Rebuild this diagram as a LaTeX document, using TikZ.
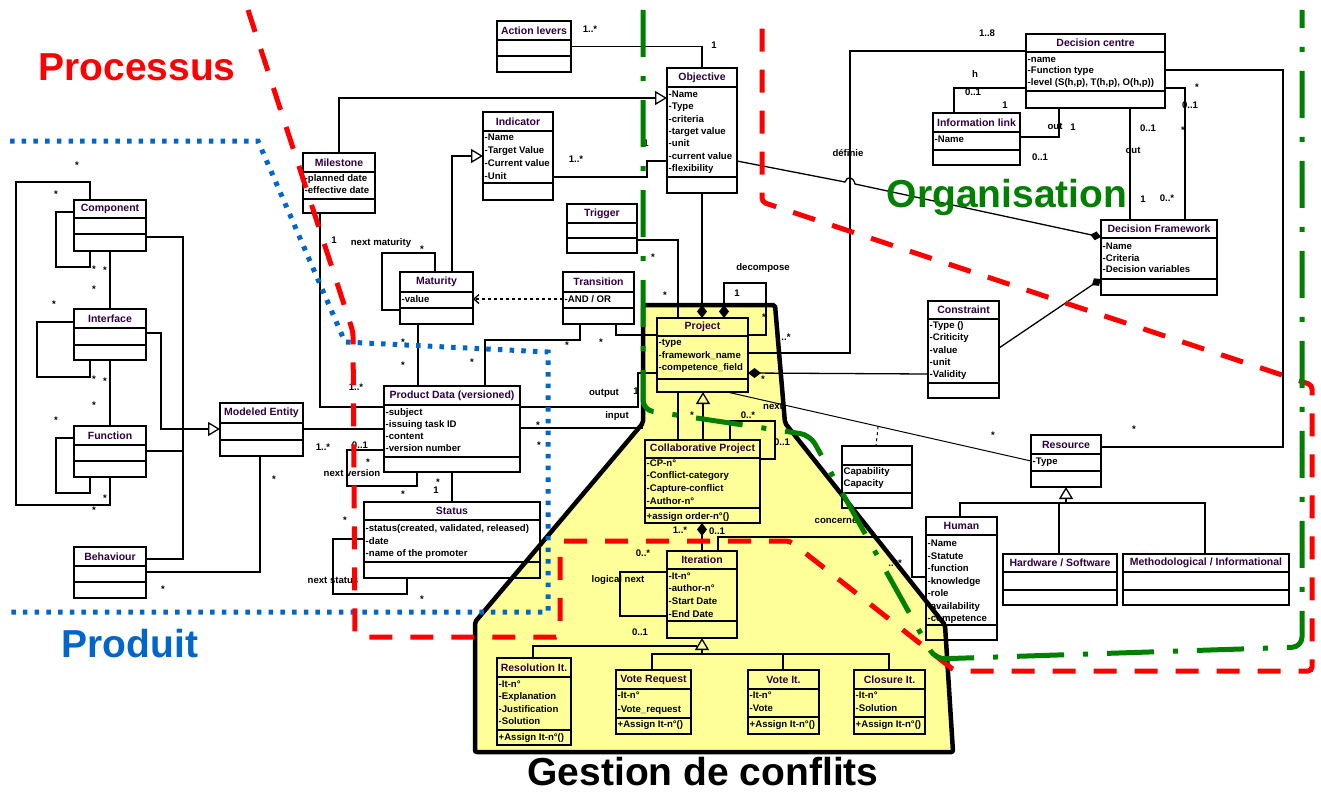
\documentclass[tikz,border=0pt]{standalone}
\usepackage{fontspec}
\setmainfont{Liberation Sans}
\usetikzlibrary{arrows.meta}
\definecolor{ured}{RGB}{255,0,0}
\definecolor{ugreen}{RGB}{0,128,0}
\definecolor{ublue}{RGB}{0,102,204}
\definecolor{uyellow}{RGB}{255,255,153}
\definecolor{utitle}{RGB}{48,0,64}
\newcommand\umlclass[8]{%
  \node[cls, minimum width=#4pt-#2pt, minimum height=#5pt-#3pt] (#1) at (#2,#3) {};
  \draw[line width=2.6pt] (#2,#3) rectangle (#4,#6);
  \draw[line width=1.4pt] (#2,#7) -- (#4,#7);
  \node[ttl] (#1-t) at ({(#2+#4)/2},{(#3+#6)/2}) {#8};
}
\newcommand\uattrs[5]{%
  \foreach \ua [count=\ui] in {#5} {
    \node[att] (#1-a\ui) at (#2+1.5, {#3+(\ui-1)*#4}) {\ua};
  }
}
\begin{document}
\begin{tikzpicture}[x=1pt,y=-1pt,
  cls/.style={draw, line width=1.4pt, inner sep=0pt, outer sep=0pt, anchor=north west},
  ttl/.style={font=\fontsize{10.5}{12}\selectfont\bfseries, text=utitle, inner sep=0pt},
  att/.style={font=\fontsize{9.6}{11}\selectfont\bfseries, inner sep=0pt, anchor=base west},
  lbl/.style={font=\fontsize{9.6}{11}\selectfont\bfseries, inner sep=0pt},
  star/.style={font=\fontsize{9.6}{11}\selectfont\bfseries, inner sep=0pt, yshift=-2pt},
  conn/.style={line width=1.3pt},
  gen/.style={conn, -{Triangle[open, length=12pt, width=14pt, line width=1.3pt]}},
  compo/.style={conn, -{Diamond[length=13pt, width=10pt]}},
  big/.style={font=\fontsize{39}{40}\selectfont\bfseries, inner sep=0pt}]
\useasboundingbox (0,0) rectangle (1321,792);

% yellow conflict-management region
\fill[uyellow, rounded corners=2pt] (643,305) -- (775,305) -- (785,423) -- (945,625) -- (953,752) -- (475,752) -- (475,622) -- (643,423) -- cycle;

% ---------------- classes ----------------
\umlclass{lev}{497}{21}{571}{72}{40}{56}{Action levers}
\umlclass{obj}{667}{68}{737}{193}{87}{177}{Objective}
\uattrs{obj}{667}{97.5}{12.3}{-Name,-Type,-criteria,-target value,-unit,-current value,-flexibility}
\umlclass{ind}{483}{112}{553}{200}{131}{183}{Indicator}
\uattrs{ind}{483}{140.5}{13}{-Name,-Target Value,-Current value,-Unit}
\umlclass{mil}{303}{153}{375}{213}{172}{199}{Milestone}
\uattrs{mil}{303}{181.5}{12}{-planned date,-effective date}
\umlclass{comp}{74}{200}{146}{251}{218}{234}{Component}
\umlclass{intf}{74}{309}{146}{360}{328}{345}{Interface}
\umlclass{func}{74}{426}{146}{477}{445}{461}{Function}
\umlclass{beh}{74}{547}{146}{598}{566}{582}{Behaviour}
\umlclass{me}{220}{403}{303}{456}{423}{440}{Modeled Entity}
\umlclass{pd}{384}{386}{520}{472}{405}{457}{Product Data (versioned)}
\uattrs{pd}{384}{415.5}{12}{-subject,-issuing task ID,-content,-version number}
\umlclass{st}{364}{502}{540}{578}{520}{562}{Status}
\uattrs{st}{364}{531.5}{12.5}{{-status(created, validated, released)},-date,-name of the promoter}
\umlclass{mat}{400}{272}{473}{324}{292}{308}{Maturity}
\uattrs{mat}{400}{302.5}{12}{-value}
\umlclass{tr}{563}{272}{634}{324}{292}{308}{Transition}
\uattrs{tr}{563}{302.5}{12}{-AND / OR}
\umlclass{trg}{567}{204}{637}{253}{223}{238}{Trigger}
\umlclass{proj}{657}{318}{748}{392}{336}{379}{Project}
\uattrs{proj}{657}{345.5}{12.5}{-type,-framework\_name,-competence\_field}
\umlclass{collab}{645}{440}{760}{523}{458}{508}{Collaborative Project}
\uattrs{collab}{645}{466}{12.7}{-CP-n°,-Conflict-category,-Capture-conflict,-Author-n°}
\node[att] (collab-o) at (646.5,519.5) {+assign order-n°()};
\umlclass{it}{667}{551}{737}{638}{569}{621}{Iteration}
\uattrs{it}{667}{579}{12.7}{-It-n°,-author-n°,-Start Date,-End Date}
\umlclass{res}{497}{658}{571}{745}{677}{730}{Resolution It.}
\uattrs{res}{497}{687.5}{12.3}{-It-n°,-Explanation,-Justification,-Solution}
\node[att] (res-o) at (498.5,740.5) {+Assign It-n°()};
\umlclass{vreq}{616}{670}{691}{734}{689}{718}{Vote Request}
\uattrs{vreq}{616}{698.5}{13.5}{-It-n°,-Vote\_request}
\node[att] (vreq-o) at (617.5,727.5) {+Assign It-n°()};
\umlclass{vote}{748}{670}{819}{734}{689}{717}{Vote It.}
\uattrs{vote}{748}{698.5}{13}{-It-n°,-Vote}
\node[att] (vote-o) at (749.5,727.5) {+Assign It-n°()};
\umlclass{clo}{854}{670}{925}{734}{689}{717}{Closure It.}
\uattrs{clo}{854}{698.5}{13}{-It-n°,-Solution}
\node[att] (clo-o) at (855.5,727.5) {+Assign It-n°()};
\umlclass{cap}{842}{446}{912}{508}{465}{493}{}
\uattrs{cap}{842}{474.5}{12}{Capability,Capacity}
\umlclass{con}{928}{301}{999}{398}{319}{383}{Constraint}
\uattrs{con}{928}{328.5}{12.25}{-Type (),-Criticity,-value,-unit,-Validity}
\umlclass{df}{1101}{220}{1217}{295}{238}{279}{Decision Framework}
\uattrs{df}{1101}{249.5}{11.5}{-Name,-Criteria,-Decision variables}
\umlclass{dc}{1026}{34}{1165}{108}{52}{91}{Decision centre}
\uattrs{dc}{1026}{62.5}{11.5}{-name,-Function type,{-level (S(h,p), T(h,p), O(h,p))}}
\umlclass{il}{933}{113}{1020}{165}{132}{150}{Information link}
\uattrs{il}{933}{142.5}{12}{-Name}
\umlclass{rsc}{1031}{435}{1101}{487}{454}{471}{Resource}
\uattrs{rsc}{1031}{464.5}{12}{-Type}
\umlclass{hum}{926}{517}{997}{640}{535}{625}{Human}
\uattrs{hum}{926}{546.5}{12.5}{-Name,-Statute,-function,-knowledge,-role,-availability,-competence}
\umlclass{hw}{1003}{554}{1117}{605}{572}{590}{Hardware / Software}
\umlclass{meth}{1123}{554}{1289}{605}{572}{590}{Methodological / Informational}

% ---------------- connectors ----------------
\draw[conn] (lev.east) -- (lev.east -| obj.north) -- (obj.north);
\draw[gen] (mil.north) -- (mil.north |- 0,98) -- (obj.west |- 0,98);
\draw[gen] (mat.north -| 452,0) -- (452,156) -- (ind.west |- 0,156);
\draw[conn] (mat.north -| 435,0) -- (435,253) -- (382,253) -- (382,310) -- (mat.west |- 0,310);
\draw[conn] (ind.east |- 0,177) -- (647,177) -- (647,161) -- (obj.west |- 0,161);
\draw[conn] (mil.south -| 320,0) -- (320,407) -- (pd.west |- 0,407);
\draw[conn] (comp.west |- 0,212) -- (56,212) -- (56,267) -- (90,267) -- (comp.south -| 90,0);
\draw[conn] (comp.north -| 90,0) -- (90,182) -- (16,182) -- (16,505) -- (110,505) -- (func.south -| 110,0);
\draw[conn] (comp.south) -- (intf.north);
\draw[conn] (intf.south) -- (func.north);
\draw[conn] (intf.west |- 0,322) -- (37,322) -- (37,377) -- (90,377) -- (intf.south -| 90,0);
\draw[conn] (func.west |- 0,438) -- (56,438) -- (56,493) -- (90,493) -- (func.south -| 90,0);
\draw[conn] (comp.east |- 0,237) -- (183,237) -- (183,559) -- (beh.east |- 0,559);
\draw[conn] (func.east |- 0,451) -- (183,451);
\draw[gen] (intf.east |- 0,333) -- (161,333) -- (161,429) -- (me.west |- 0,429);
\draw[conn] (beh.east |- 0,572) -- (260,572) -- (me.south -| 260,0);
\draw[conn] (me.east |- 0,429) -- (pd.west |- 0,429);
\draw[conn] (pd.west |- 0,450) -- (347,450) -- (347,486) -- (417,486) -- (pd.south -| 417,0);
\draw[conn] (pd.south -| 452,0) -- (st.north -| 452,0);
\draw[conn] (st.west |- 0,539) -- (333,539) -- (333,594) -- (407,594) -- (st.south -| 407,0);
\draw[conn] (mat.south -| 418,0) -- (pd.north -| 418,0);
\draw[conn] (tr.south -| 580,0) -- (580,340) -- (485,340) -- (pd.north -| 485,0);
\draw[conn, dashed, -{Straight Barb[length=5pt,width=9pt]}] (tr.west |- 0,299) -- (mat.east |- 0,299);
\draw[conn] (tr.south -| 616,0) -- (616,335) -- (proj.west |- 0,335);
\draw[conn] (trg.east |- 0,240) -- (678,240) -- (proj.north -| 678,0);
\draw[compo] (obj.south) -- (obj.south |- proj.north);
\draw[compo] (proj.east |- 0,335) -- (766,335) -- (766,283) -- (724,283) -- (proj.north -| 724,0);
\draw[conn] (proj.east |- 0,353) -- (850,353) -- (850,51) -- (dc.west |- 0,51);
\draw[conn, -{Diamond[length=11pt, width=9pt]}] (obj.east |- 0,161) -- (845,182) .. controls (847,176) and (853,176) .. (855,184) -- (df.west |- 0,237);
\draw[conn, -{Diamond[length=11pt, width=9pt]}] (con.east |- 0,348) -- (df.west |- 0,279);
\draw[compo] (con.west |- 0,374) -- (proj.east |- 0,373);
\draw[line width=1pt] (proj.south -| 727,0) -- coordinate[pos=0.497] (capj) (rsc.west |- 0,461);
\draw[line width=1pt, dashed] (capj) -- (cap.north -| 876,0);
\draw[conn] (pd.east |- 0,407) -- (638,407) -- (638,373) -- (proj.west |- 0,373);
\coordinate (inpt) at (643,428);
\draw[conn] (pd.east |- 0,428) -- (inpt);
\draw[gen] (collab.north -| 703,0) -- (proj.south -| 703,0);
\draw[conn] (proj.south -| 678,0) -- (collab.north -| 678,0);
\draw[conn] (collab.north -| 730,0) -- (730,421) -- (775,421) -- (775,459) -- (collab.east |- 0,459);
\draw[compo] (it.north -| 702,0) -- (collab.south -| 702,0);
\draw[conn] (it.west |- 0,572) -- (620,572) -- (620,616) -- (it.west |- 0,616);
\draw[conn] (it.north -| 718,0) -- (718,537) -- (912,537) -- (912,577) -- (hum.west |- 0,577);
\draw[gen] (702,654) -- (it.south -| 702,0);
\draw[conn] (vreq.north -| 652,0) -- (652,654) -- (889,654) -- (clo.north -| 889,0);
\draw[conn] (vote.north -| 783,0) -- (783,654);
\draw[conn] (res.north -| 533,0) -- (533,646) -- (697,646);
\draw[gen] (1066,503) -- (rsc.south -| 1066,0);
\draw[conn] (hum.north -| 960,0) -- (960,503) -- (1205,503) -- (meth.north -| 1205,0);
\draw[conn] (hw.north -| 1059,0) -- (1059,503);
\draw[conn] (dc.east |- 0,70) -- (1283,70) -- (1283,447) -- (rsc.east |- 0,447);
\draw[conn] (dc.east |- 0,88) -- (1185,88) -- (df.north -| 1185,0);
\draw[conn] (dc.south -| 1130,0) -- (df.north -| 1130,0);
\draw[conn] (dc.south -| 1059,0) -- (1059,137) -- (il.east |- 0,137);
\draw[conn] (dc.west |- 0,88) -- (954,88) -- (il.north -| 954,0);

% ---------------- labels ----------------
\foreach \p/\t [count=\k] in {
  {(590,29)}/{1..*}, {(714,45)}/1, {(576,159)}/{1..*}, {(646,143)}/1, {(334,240)}/1,
  {(381,243)}/{next maturity}, {(356,387)}/{1..*}, {(763,268)}/decompose, {(737,293)}/1,
  {(786,337)}/{..*}, {(604,393)}/output, {(636,391)}/1, {(617,416)}/input,
  {(323,447)}/{1..*}, {(360,445)}/{0..1}, {(352,473)}/{next version}, {(436,490)}/1,
  {(333,580)}/{next status}, {(848,153)}/{définie}, {(987,33)}/{1..8}, {(975,74)}/h,
  {(973,92)}/{0..1}, {(1005,105)}/1, {(1055,126)}/out, {(1073,127)}/1, {(1040,157)}/{0..1},
  {(1148,128)}/{0..1}, {(1133,150)}/out, {(1143,199)}/1, {(1190,105)}/{0..1}, {(1167,198)}/{0..*},
  {(773,406)}/next, {(748,415)}/{0..*}, {(782,442)}/{0..1}, {(680,530)}/{1..*}, {(717,531)}/{0..1},
  {(836,521)}/concerne, {(893,563)}/{..*}, {(643,553)}/{0..*}, {(618,580)}/{logical next}, {(640,632)}/{0..1}}
  { \node[lbl] (lab\k) at \p {\t}; }
\foreach \p [count=\k] in {(77,163),(56,192),(94,267),(105,268),(94,287),(54,302),(94,377),(105,379),(94,403),(56,418),(105,496),(94,508),(274,477),(163,587),
  (422,247),(653,255),(665,293),(403,340),(403,363),(472,360),(567,343),(601,340),(538,423),(539,443),(368,460),(438,480),(403,492),(345,518),(422,597),
  (764,315),(763,377),(692,413),(993,433),(1134,427),(1197,85),(1183,128),(900,561)}
  { \node[star] (st\k) at \p {*}; }

% conflict region border
\draw[line width=4.5pt, rounded corners=2pt] (643,305) -- (775,305) -- (785,423) -- (945,625) -- (953,752) -- (475,752) -- (475,622) -- (643,423) -- cycle;

% region boundaries
\draw[ublue, line width=5pt, dash pattern=on 4.5pt off 7.2pt] (10,141) -- (258,141) -- (345,342) -- (548,352) -- (548,612) -- (10,612);
\draw[ured, line width=5pt, dash pattern=on 23pt off 18pt, rounded corners=4pt] (248,10) -- (353,332) -- (355,637) -- (560,637) -- (560,541) -- (790,541) -- (955,671) -- (1312,671) -- (1312,385) -- (762,202) -- (762,15);
\draw[ugreen, line width=5pt, dash pattern=on 47pt off 19pt on 5pt off 19pt, rounded corners=10pt] (643,10) -- (643,410) -- (810,435) -- (935,659) -- (1302,647) -- (1302,10);

% region names
\node[big, text=ured] (tproc) at (137,67) {Processus};
\node[big, text=ugreen] (torg) at (1007,197) {Organisation};
\node[big, text=ublue] (tprod) at (130,644) {Produit};
\node[big] (tgest) at (703,772) {Gestion de conflits};
\end{tikzpicture}
\end{document}
